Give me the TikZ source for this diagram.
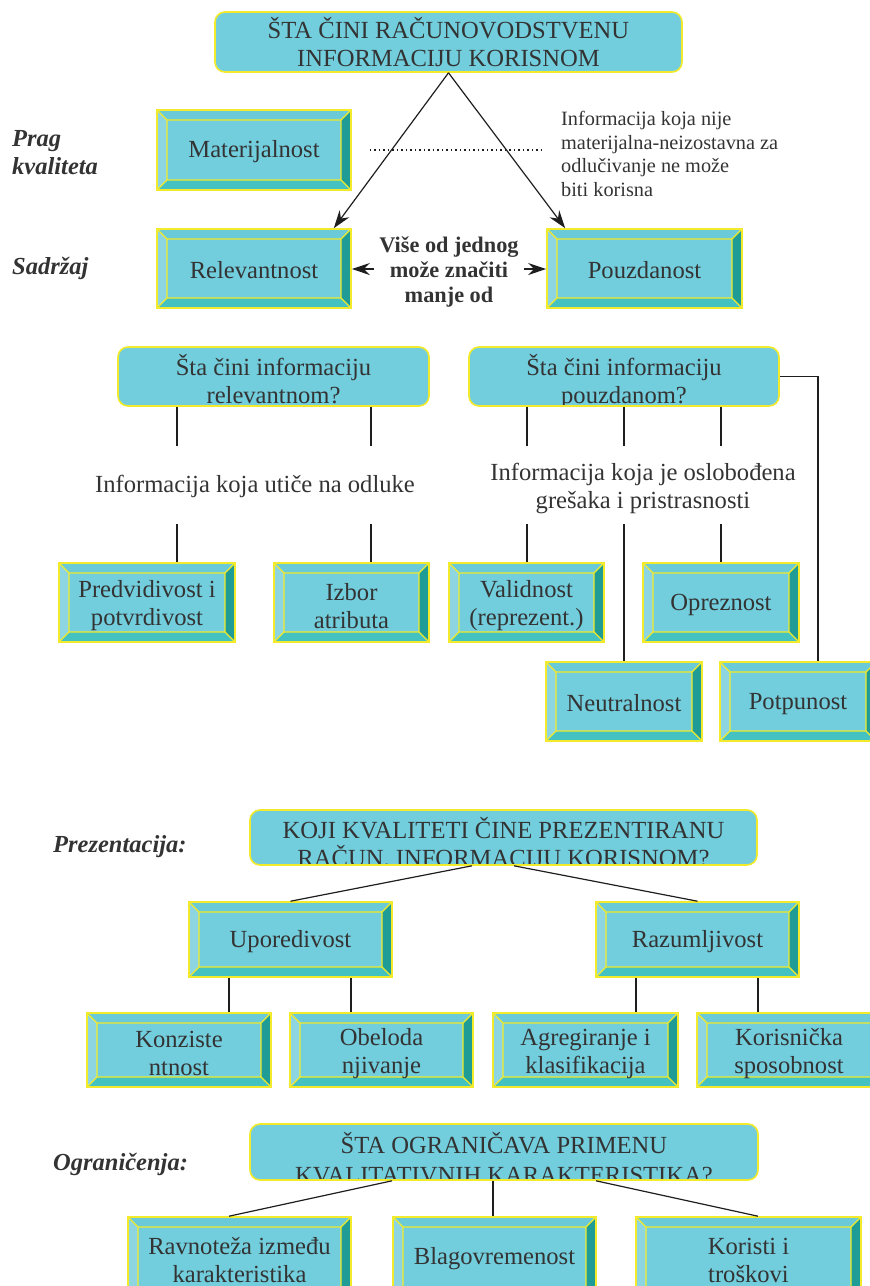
\documentclass[tikz,border=0pt]{standalone}
\usepackage{fontspec}
\setmainfont{Liberation Serif}
\usetikzlibrary{arrows.meta,calc}
\definecolor{face}{HTML}{72CEDD}
\definecolor{btop}{HTML}{6ACAD8}
\definecolor{bleft}{HTML}{8ED5E2}
\definecolor{bbot}{HTML}{44C1C1}
\definecolor{bright}{HTML}{1F9C96}
\definecolor{yel}{HTML}{F2EA2A}
\definecolor{ink}{HTML}{333333}
\definecolor{wire}{HTML}{1E1E1E}
\newcommand\tallstrut{\rule{0pt}{23.5pt}}
\begin{document}
\begin{tikzpicture}[x=1pt,y=-1pt,
  txt/.style={font=\fontsize{24.6}{28}\selectfont, text=ink, align=center, inner sep=0pt},
  lab/.style={font=\bfseries\itshape\fontsize{24.5}{28}\selectfont, text=ink, align=left, inner sep=0pt},
  bev/.style={rectangle, fill=face, draw=yel, line width=1.6pt, txt,
    execute at begin node={\rule{0pt}{20.5pt}},
    path picture={
      \coordinate (pNW) at (path picture bounding box.north west);
      \coordinate (pNE) at (path picture bounding box.north east);
      \coordinate (pSW) at (path picture bounding box.south west);
      \coordinate (pSE) at (path picture bounding box.south east);
      \coordinate (iNW) at ([shift={(10pt,-10pt)}]pNW);
      \coordinate (iNE) at ([shift={(-10pt,-10pt)}]pNE);
      \coordinate (iSW) at ([shift={(10pt,10pt)}]pSW);
      \coordinate (iSE) at ([shift={(-10pt,10pt)}]pSE);
      \fill[btop, draw=none] (pNW) -- (pNE) -- (iNE) -- (iNW) -- cycle;
      \fill[bleft, draw=none] (pNW) -- (iNW) -- (iSW) -- (pSW) -- cycle;
      \fill[bbot, draw=none] (pSW) -- (iSW) -- (iSE) -- (pSE) -- cycle;
      \fill[bright, draw=none] (pNE) -- (pSE) -- (iSE) -- (iNE) -- cycle;
      \draw[yel, line width=1.3pt] (iNW) rectangle (iSE)
        (pNW) -- (iNW) (pNE) -- (iNE) (pSW) -- (iSW) (pSE) -- (iSE);
    }},
  qbox/.style={rectangle, rounded corners=10pt, fill=face, draw=yel, line width=1.6pt, txt},
  qclip/.style n args={4}{qbox,
    path picture={
      \node[txt, anchor=base] at ([yshift=#1]path picture bounding box.south) {#2};
      \node[txt, anchor=base] at ([yshift=#3]path picture bounding box.south) {#4};
    }},
  wire/.style={draw=wire, line width=1.2pt},
  arr/.style={wire, -{Stealth[length=18pt,width=12pt,inset=6pt]}}
]
\clip (0,0) rectangle (870,1286);

% ---- top part
\node[qbox, minimum width=467pt, minimum height=60pt, execute at begin node={\rule{0pt}{28pt}}] (top) at (448.5,42)
  {ŠTA ČINI RAČUNOVODSTVENU\\INFORMACIJU KORISNOM};
\node[bev, minimum width=194pt, minimum height=80pt] (mat) at (254,150) {Materijalnost};
\node[bev, minimum width=194pt, minimum height=79pt] (rel) at (254,268.5) {Relevantnost};
\node[bev, minimum width=195pt, minimum height=79pt] (pou) at (644.5,268.5) {Pouzdanost};
\node[anchor=west, font=\fontsize{20.3}{23.4}\selectfont, align=left, text=ink, inner sep=0pt] (info) at (561,154)
  {Informacija koja nije\\materijalna-neizostavna za\\odlučivanje ne može\\biti korisna};
\node[font=\bfseries\fontsize{22.3}{25}\selectfont, text=ink, align=center, inner sep=5pt] (mid) at (449,272)
  {Više od jednog\\može značiti\\manje od};
\node[lab, anchor=west] (prag) at (12,153) {Prag\\kvaliteta};
\node[lab, anchor=west] (sad) at (12,268) {Sadržaj};

\draw[arr] (top.south) -- ([xshift=-18pt]rel.north east);
\draw[arr] (top.south) -- ([xshift=19pt]pou.north west);
\draw[wire, line width=1.5pt, dash pattern=on 1.5pt off 3pt] ([xshift=18pt]mat.east) -- ([xshift=-19pt]mat.east -| info.west);
\draw[arr] ([yshift=3pt]mid.west) -- ([yshift=3pt]mid.west -| rel.east);
\draw[arr] ([yshift=3pt]mid.east) -- ([yshift=3pt]mid.east -| pou.west);

% ---- relevance / reliability
\node[qclip={31pt}{Šta čini informaciju}{3pt}{relevantnom?}, minimum width=311pt, minimum height=59pt] (q1) at (273.5,376.5) {};
\node[qclip={31pt}{Šta čini informaciju}{3pt}{pouzdanom?}, minimum width=310pt, minimum height=59pt] (q2) at (624,376.5) {};
\node[txt] (t1) at (255,486) {Informacija koja utiče na odluke};
\node[txt] (t2) at (643,488) {Informacija koja je oslobođena\\grešaka i pristrasnosti};

\node[bev, minimum width=176pt, minimum height=79pt] (pred) at (147,602.5) {\tallstrut Predvidivost i\\potvrdivost};
\node[bev, minimum width=155pt, minimum height=79pt] (izb) at (351.5,602.5) {\tallstrut Izbor\\atributa};
\node[bev, minimum width=155pt, minimum height=79pt] (val) at (526.5,602.5) {\tallstrut Validnost\\(reprezent.)};
\node[bev, minimum width=156pt, minimum height=79pt] (opr) at (721,602.5) {Opreznost};
\node[bev, minimum width=156pt, minimum height=79pt] (neu) at (624,701.5) {Neutralnost};
\node[bev, minimum width=156pt, minimum height=79pt] (pot) at (798,701.5) {Potpunost};

\coordinate (a1) at (177,446); \coordinate (a2) at (371,446);
\coordinate (b1) at (177,524); \coordinate (b2) at (371,524);
\coordinate (a3) at (527,446); \coordinate (a4) at (624,446); \coordinate (a5) at (721,446);
\coordinate (b3) at (527,524); \coordinate (b4) at (624,524); \coordinate (b5) at (721,524);
\draw[wire] (q1.south -| a1) -- (a1);
\draw[wire] (q1.south -| a2) -- (a2);
\draw[wire] (b1) -- (b1 |- pred.north);
\draw[wire] (b2) -- (b2 |- izb.north);
\draw[wire] (q2.south -| a3) -- (a3);
\draw[wire] (q2.south -| a4) -- (a4);
\draw[wire] (q2.south -| a5) -- (a5);
\draw[wire] (b3) -- (b3 |- val.north);
\draw[wire] (b4) -- (b4 |- neu.north);
\draw[wire] (b5) -- (b5 |- opr.north);
\draw[wire] (q2.east) -| ([xshift=20pt]pot.north);

% ---- presentation
\node[lab, anchor=west] (prez) at (53,847) {Prezentacija:};
\node[qclip={27pt}{KOJI KVALITETI ČINE PREZENTIRANU}{-1pt}{RAČUN. INFORMACIJU KORISNOM?}, minimum width=507pt, minimum height=55pt] (koji) at (503.5,837.5) {};
\node[bev, minimum width=203pt, minimum height=75pt] (upo) at (290.5,939.5) {Uporedivost};
\node[bev, minimum width=203pt, minimum height=75pt] (raz) at (697.5,939.5) {Razumljivost};
\node[bev, minimum width=184pt, minimum height=74pt] (konz) at (179,1050) {\tallstrut Konziste\\ntnost};
\node[bev, minimum width=183pt, minimum height=74pt] (obel) at (381.5,1050) {\tallstrut Obeloda\\njivanje};
\node[bev, minimum width=185pt, minimum height=74pt] (agr) at (585.5,1050) {\tallstrut Agregiranje i\\klasifikacija};
\node[bev, minimum width=184pt, minimum height=74pt] (kor) at (789,1050) {\tallstrut Korisnička\\sposobnost};

\draw[wire] ([xshift=-31.5pt]koji.south) -- (upo.north);
\draw[wire] ([xshift=10.5pt]koji.south) -- (raz.north);
\draw[wire] ([xshift=-61.5pt]upo.south) -- ([xshift=50pt]konz.north);
\draw[wire] ([xshift=60.5pt]upo.south) -- ([xshift=-30.5pt]obel.north);
\draw[wire] ([xshift=-61.5pt]raz.south) -- ([xshift=50.5pt]agr.north);
\draw[wire] ([xshift=60.5pt]raz.south) -- ([xshift=-31pt]kor.north);

% ---- constraints
\node[lab, anchor=west] (ogl) at (53,1164) {Ograničenja:};
\node[qclip={27pt}{ŠTA OGRANIČAVA PRIMENU}{-3pt}{KVALITATIVNIH KARAKTERISTIKA?}, minimum width=508pt, minimum height=56pt] (ogr) at (504,1152) {};
\node[bev, minimum width=223pt, minimum height=80pt] (rav) at (239.5,1257) {\tallstrut Ravnoteža između\\karakteristika};
\node[bev, minimum width=203pt, minimum height=80pt] (bla) at (494.5,1257) {Blagovremenost};
\node[bev, minimum width=225pt, minimum height=80pt] (kos) at (748.5,1257) {\tallstrut Koristi i\\troškovi};

\draw[wire] ([xshift=-112pt]ogr.south) -- ([xshift=-10.5pt]rav.north);
\draw[wire] ([xshift=-11pt]ogr.south) -- ([xshift=-1.5pt]bla.north);
\draw[wire] ([xshift=92pt]ogr.south) -- ([xshift=9.5pt]kos.north);
\end{tikzpicture}
\end{document}
